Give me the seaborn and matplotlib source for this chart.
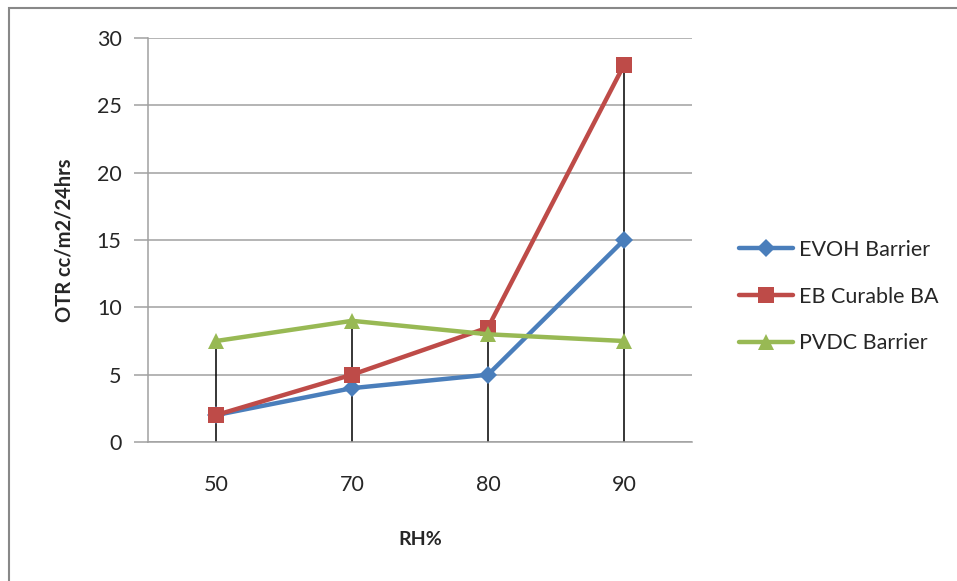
import pandas as pd
import numpy as np
import matplotlib
matplotlib.use("Agg")
import matplotlib.pyplot as plt
import seaborn as sns
from matplotlib.patches import Rectangle

# data
rh = ["50", "70", "80", "90"]
evoh = [2, 4, 5, 15]
eb_curable = [2, 5, 8.5, 28]
pvdc = [7.5, 9, 8, 7.5]
series_names = ["EVOH Barrier", "EB Curable BA", "PVDC Barrier"]

df = pd.DataFrame({
    "RH%": rh * 3,
    "OTR": evoh + eb_curable + pvdc,
    "series": np.repeat(series_names, len(rh)),
})

sns.set_style("white")
plt.rcParams['font.family'] = ['Lato', 'DejaVu Sans']

fig = plt.figure(figsize=(9.57, 5.81), dpi=100)
ax = fig.add_axes([0.1547, 0.2392, 0.5684, 0.6954])

# outer chart frame (cut off at right/bottom)
fig.patches.append(Rectangle((9 / 957, -0.1), 1.2, 1 - 8 / 581 + 0.1,
                             transform=fig.transFigure, fill=False,
                             edgecolor="#888888", linewidth=1.5))

colors = {"EVOH Barrier": "#4A7EBB", "EB Curable BA": "#BE4B48", "PVDC Barrier": "#98B954"}
markers = {"EVOH Barrier": "D", "EB Curable BA": "s", "PVDC Barrier": "^"}
sizes = {"EVOH Barrier": 9, "EB Curable BA": 12, "PVDC Barrier": 12}

# drop lines from highest point to the axis
top = df.groupby("RH%", sort=False)["OTR"].max()
for i, lab in enumerate(rh):
    ax.vlines(i, 0, top[lab], color="black", linewidth=1.1, zorder=1)

for name in series_names:
    sub = df[df["series"] == name]
    sns.lineplot(data=sub, x="RH%", y="OTR", ax=ax, color=colors[name],
                 marker=markers[name], markersize=sizes[name], markeredgewidth=0,
                 linewidth=3.2, label=name, zorder=3)

ax.set_xlim(-0.5, 3.5)
ax.set_ylim(0, 30)
ax.set_yticks(range(0, 31, 5))
ax.yaxis.grid(True, color="#a0a0a0", linewidth=1.1)
ax.xaxis.grid(False)
for s in ["top", "right"]:
    ax.spines[s].set_visible(False)
ax.spines["left"].set_color("#a0a0a0")
ax.spines["bottom"].set_color("#a0a0a0")
ax.spines["left"].set_linewidth(1.1)
ax.spines["bottom"].set_linewidth(1.1)
ax.tick_params(axis="y", length=10, width=1.1, color="#a0a0a0", labelsize=15.5, pad=9, left=True)
ax.tick_params(axis="x", length=0, labelsize=15.5, pad=24)

ax.set_xlabel("RH%", fontsize=14, fontweight="bold", labelpad=26)
ax.set_ylabel("OTR cc/m2/24hrs", fontsize=14.5, fontweight="bold", labelpad=16)

ax.legend(loc="center left", bbox_to_anchor=(1.0, 0.36), frameon=False,
          fontsize=15.5, handlelength=2.5, labelspacing=1.25, handletextpad=0.25,
          borderaxespad=1.8)

fig.savefig("out.png", dpi=100)
